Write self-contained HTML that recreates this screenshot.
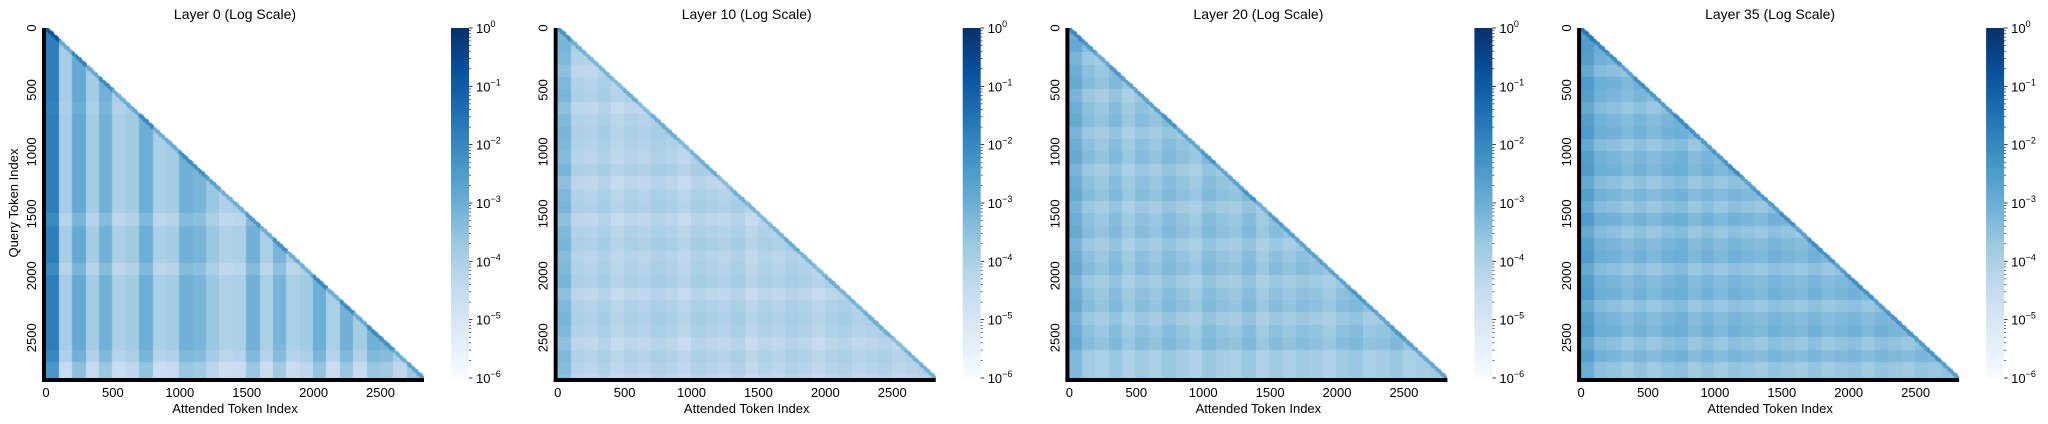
<!DOCTYPE html>
<html><head><meta charset="utf-8">
<style>
body{margin:0;background:#fff;width:2048px;height:424px;overflow:hidden;position:relative;font-family:"Liberation Sans","DejaVu Sans",sans-serif;}
canvas{position:absolute;}
svg{position:absolute;left:0;top:0;}
</style></head>
<body>
<div id="root"></div>
<svg id="ov" width="2048" height="424"></svg>
<script>
// ---- data (log10 attention levels per 100-token band) ----
const layerTitles = ["Layer 0 (Log Scale)","Layer 10 (Log Scale)","Layer 20 (Log Scale)","Layer 35 (Log Scale)"];
const xTicks = [0,500,1000,1500,2000,2500];
const yTicks = [0,500,1000,1500,2000,2500];
const cbarTicks = [0,-1,-2,-3,-4,-5,-6];
const seqLen = 2825;
const colL0 = [-1.8,-3.9,-2.9,-3.9,-3.1,-4.0,-3.8,-3.0,-4.0,-3.9,-3.1,-3.2,-3.7,-4.1,-4.0,-3.1,-4.0,-3.2,-4.0,-3.8,-3.0,-4.0,-3.1,-3.9,-3.1,-3.2,-3.8,-3.1,-2.9];
const rowL0 = [0,0,0,0,0,0,-0.1,0,0,0,0,0,0,0,0,-0.3,0,0,0,-0.3,0,0,0,0,0,0,-0.2,-0.6,-0.6];
const colL10 = [-3.3,-4.1,-4.2,-4.0,-4.3,-4.1,-4.2,-4.0,-4.1,-4.3,-4.0,-4.1,-4.2,-4.0,-4.3,-4.1,-4.2,-4.0,-4.1,-4.3,-4.1,-4.0,-4.2,-4.1,-4.0,-4.2,-4.1,-4.0,-3.8];
const rowL10 = [0,0.1,0,-0.2,0,0.1,-0.2,0,0.1,0,-0.1,0.1,-0.2,0,0.1,-0.2,0,0.1,-0.1,0,0.1,-0.2,0,0.1,0,-0.2,0,-0.1,-0.2];
const colL20 = [-3.0,-3.5,-3.7,-3.4,-3.8,-3.5,-3.7,-3.4,-3.6,-3.8,-3.4,-3.6,-3.7,-3.4,-3.8,-3.5,-3.7,-3.5,-3.6,-3.8,-3.5,-3.4,-3.7,-3.6,-3.4,-3.7,-3.6,-3.5,-3.3];
const rowL20 = [0,0.1,-0.2,0,0.1,-0.2,0,0.1,-0.2,0,0.1,-0.2,0,0.1,-0.2,0,0.1,-0.2,0,0.1,-0.2,0,0.1,-0.2,0,0.1,-0.3,-0.3,-0.3];
const colL35 = [-2.6,-3.1,-3.2,-3.4,-3.2,-3.4,-3.2,-3.1,-3.4,-3.2,-3.4,-3.2,-3.3,-3.4,-3.2,-3.3,-3.4,-3.2,-3.4,-3.3,-3.2,-3.4,-3.2,-3.3,-3.4,-3.2,-3.3,-3.2,-3.1];
const rowL35 = [0,0.1,0,-0.3,0.1,0,-0.3,0,0.1,-0.3,0,0.1,-0.3,0,-0.3,0.1,-0.3,0,0.1,-0.3,0,0.1,-0.3,0,0.1,-0.3,0,-0.4,-0.4];
const layerCols = [colL0,colL10,colL20,colL35];
const layerRows = [rowL0,rowL10,rowL20,rowL35];

// ---- layout ----
const plotTop=28, plotH=350, plotW=378, period=511.7, firstLeft=46;
const blues=[[247,251,255],[222,235,247],[198,219,239],[158,202,225],[107,174,214],[66,146,198],[33,113,181],[8,81,156],[8,48,107]];
function cmap(v){
  let t=Math.max(0,Math.min(1,(v+6)/6))*8; let i=Math.min(7,Math.floor(t)); let f=t-i;
  const a=blues[i],b=blues[i+1];
  return [a[0]+(b[0]-a[0])*f,a[1]+(b[1]-a[1])*f,a[2]+(b[2]-a[2])*f];
}
const svg=document.getElementById('ov');
const NS='http://www.w3.org/2000/svg';
function el(tag,attrs,parent){const e=document.createElementNS(NS,tag);for(const k in attrs)e.setAttribute(k,attrs[k]);(parent||svg).appendChild(e);return e;}
const defs=el('defs',{});
const grad=el('linearGradient',{id:'cg',x1:0,y1:1,x2:0,y2:0},defs);
blues.forEach((c,i)=>{el('stop',{offset:(i/8),'stop-color':`rgb(${c.join(',')})`},grad);});

for(let p=0;p<4;p++){
  const left=firstLeft+p*period;
  const xs=t=>left+t*plotW/seqLen, ys=t=>plotTop+t*plotH/seqLen;
  const cv=document.createElement('canvas');
  cv.width=Math.round(plotW); cv.height=plotH;
  cv.style.left=left+'px'; cv.style.top=plotTop+'px';
  
  
  document.body.insertBefore(cv,svg);
  const ctx=cv.getContext('2d');
  const step=10, cols=layerCols[p], rows=layerRows[p];
  for(let i=0;i<seqLen;i+=step){
    for(let j=0;j<=i;j+=step){
      let v=cols[Math.min(cols.length-1,Math.floor(j/100))]+rows[Math.min(rows.length-1,Math.floor(i/100))];
      if(i-j<30) v+=1.0;
      const c=cmap(v);
      ctx.fillStyle=`rgb(${c[0]|0},${c[1]|0},${c[2]|0})`;
      const x0=(xs(j)-left), x1=(xs(Math.min(j+step,i+step))-left);
      const y0=ys(i)-plotTop, y1=ys(i+step)-plotTop;
      ctx.fillRect(Math.floor(x0),Math.floor(y0),Math.ceil(x1-x0)+1,Math.ceil(y1-y0)+1);
    }
  }
  const sp=el('rect',{x:left-4,y:plotTop,width:4,height:plotH+4,fill:'#000'});
  
  
  const sb=el('rect',{x:left-4,y:plotTop+plotH,width:plotW+4,height:4,fill:'#000'});
  
  
  const tt=el('text',{x:left+plotW/2,y:19,'text-anchor':'middle','font-size':14,fill:'#000'});
  tt.textContent=layerTitles[p];
  
  
  xTicks.forEach(t=>{
    const tx=el('text',{x:xs(t),y:397,'text-anchor':'middle','font-size':13,fill:'#000'});
    tx.textContent=t;
    
    
  });
  yTicks.forEach(t=>{
    const ty=el('text',{x:0,y:0,'text-anchor':'middle','font-size':13,fill:'#000',transform:`translate(${left-10},${ys(t)}) rotate(-90)`});
    ty.textContent=t;
    
    
  });
  const xl=el('text',{x:left+plotW/2,y:413,'text-anchor':'middle','font-size':13,fill:'#000'});
  xl.textContent='Attended Token Index';
  
  
  if(p===0){
    const yl=el('text',{x:0,y:0,'text-anchor':'middle','font-size':13,fill:'#000',transform:`translate(${left-28},${plotTop+plotH/2}) rotate(-90)`});
    yl.textContent='Query Token Index';
    
    
  }
  const cx=left+405, cw=18;
  const cb=el('rect',{x:cx,y:plotTop,width:cw,height:plotH,fill:'url(#cg)'});
  
  
  const cy=v=>plotTop+(-v)*plotH/6;
  cbarTicks.forEach(v=>{
    el('line',{x1:cx+cw,x2:cx+cw+3.5,y1:cy(v),y2:cy(v),stroke:'#000','stroke-width':0.8});
    const lt=el('text',{x:cx+cw+7,y:cy(v)+5,'font-size':13,fill:'#000'});
    
    
    lt.appendChild(document.createTextNode('10'));
    const s=el('tspan',{dy:-6,'font-size':9},lt); s.textContent=(v===0?'0':'\u2212'+(-v));
    if(v>-6){
      for(let m=2;m<=9;m++){
        const yy=cy(v-1+Math.log10(m));
        el('line',{x1:cx+cw,x2:cx+cw+2,y1:yy,y2:yy,stroke:'#000','stroke-width':0.6});
      }
    }
  });
}
</script>
</body></html>
